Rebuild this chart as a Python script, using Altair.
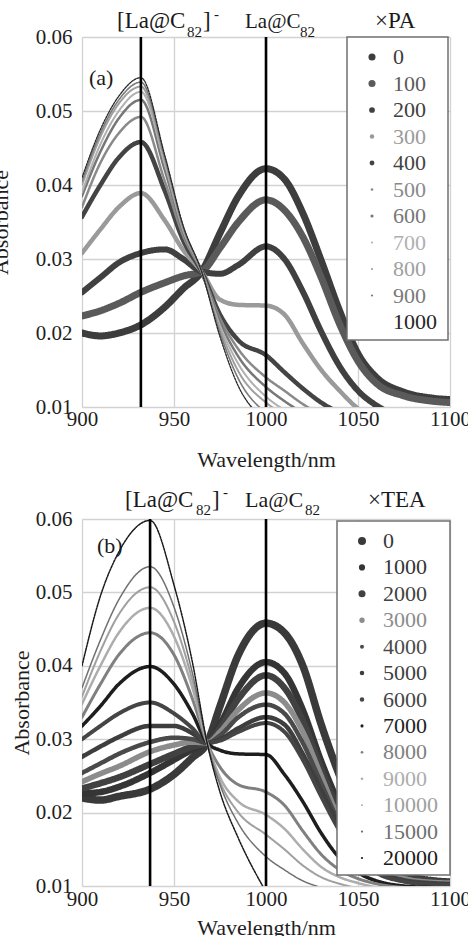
import altair as alt
import pandas as pd

FONT = "Liberation Serif"

X_TICKS = [900, 950, 1000, 1050, 1100]
Y_TICKS = [0.01, 0.02, 0.03, 0.04, 0.05, 0.06]

# ---------------- (a) La@C82 + PA ----------------
WL_A = [900, 910, 920, 932, 945, 955, 965, 975, 985, 1000,
        1010, 1020, 1030, 1040, 1050, 1060, 1075, 1090, 1100]
PA_KEYS = ["0", "100", "200", "300", "400", "500", "600", "700", "800", "900", "1000"]
PA_0 = [0.0200, 0.0196, 0.0200, 0.0211, 0.0235, 0.0260, 0.0283, 0.0335, 0.0385, 0.0422,
        0.0408, 0.0362, 0.0298, 0.0230, 0.0172, 0.0140, 0.0120, 0.0112, 0.0110]
PA_100 = [0.0223, 0.0230, 0.0240, 0.0255, 0.0268, 0.0277, 0.0283, 0.0315, 0.0350, 0.0380,
          0.0366, 0.0330, 0.0275, 0.0212, 0.0162, 0.0132, 0.0115, 0.0108, 0.0106]
PA_200 = [0.0255, 0.0275, 0.0295, 0.0308, 0.0313, 0.0300, 0.0283, 0.0280, 0.0292, 0.0317,
          0.0300, 0.0256, 0.0202, 0.0155, 0.0122, 0.0102, 0.0085]
PA_300 = [0.0308, 0.0340, 0.0370, 0.0389, 0.0352, 0.0312, 0.0283, 0.0245, 0.0238, 0.0237,
          0.0225, 0.0186, 0.0150, 0.0122, 0.0098, 0.0085]
PA_400 = [0.0357, 0.0400, 0.0437, 0.0458, 0.0392, 0.0325, 0.0283, 0.0225, 0.0190, 0.0170,
          0.0147, 0.0125, 0.0106, 0.0092]
PA_500 = [0.0370, 0.0430, 0.0470, 0.0492, 0.0405, 0.0331, 0.0283, 0.0220, 0.0178, 0.0140,
          0.0122, 0.0104, 0.0090]
PA_600 = [0.0385, 0.0445, 0.0490, 0.0515, 0.0420, 0.0336, 0.0283, 0.0215, 0.0168, 0.0127,
          0.0108, 0.0092]
PA_700 = [0.0390, 0.0455, 0.0500, 0.0526, 0.0428, 0.0339, 0.0283, 0.0210, 0.0158, 0.0114,
          0.0096]
PA_800 = [0.0400, 0.0465, 0.0510, 0.0533, 0.0433, 0.0341, 0.0283, 0.0205, 0.0148, 0.0106,
          0.0090]
PA_900 = [0.0405, 0.0470, 0.0515, 0.0539, 0.0437, 0.0343, 0.0283, 0.0200, 0.0138, 0.0092]
PA_1000 = [0.0410, 0.0475, 0.0520, 0.0545, 0.0440, 0.0345, 0.0283, 0.0195, 0.0128, 0.0082]
PA_SERIES = [PA_0, PA_100, PA_200, PA_300, PA_400, PA_500, PA_600, PA_700, PA_800, PA_900, PA_1000]
PA_PEAKS = [932, 1000]

PA_COLORS = ["#3d3d3d", "#5a5a5a", "#404040", "#9a9a9a", "#444444", "#8a8a8a",
             "#777777", "#b0b0b0", "#a0a0a0", "#7a7a7a", "#262626"]
PA_WIDTHS = [7, 7, 6, 4.5, 4.5, 2.5, 2.5, 2, 2, 1.6, 1.3]
PA_DASHES = [[1, 0]] * 10 + [[2, 1.2]]
PA_DOTS = [50, 50, 33, 20, 24, 7, 10, 5, 5, 5, 0]

# ---------------- (b) La@C82 + TEA ----------------
WL_B = [900, 910, 920, 937, 950, 960, 968, 975, 985, 1000,
        1010, 1020, 1030, 1040, 1050, 1060, 1075, 1090, 1100]
TEA_KEYS = ["0", "1000", "2000", "3000", "4000", "5000", "6000", "7000",
            "8000", "9000", "10000", "15000", "20000"]
TEA_0 = [0.0220, 0.0217, 0.0222, 0.0232, 0.0252, 0.0275, 0.0295, 0.0345, 0.0415, 0.0458,
         0.0445, 0.0400, 0.0320, 0.0250, 0.0190, 0.0155, 0.0132, 0.0125, 0.0125]
TEA_1000 = [0.0226, 0.0228, 0.0235, 0.0254, 0.0272, 0.0286, 0.0295, 0.0320, 0.0370, 0.0405,
            0.0390, 0.0340, 0.0270, 0.0210, 0.0160, 0.0132, 0.0115, 0.0108, 0.0106]
TEA_2000 = [0.0233, 0.0240, 0.0248, 0.0266, 0.0280, 0.0290, 0.0295, 0.0315, 0.0355, 0.0387,
            0.0370, 0.0325, 0.0260, 0.0200, 0.0155, 0.0130, 0.0113, 0.0107, 0.0105]
TEA_3000 = [0.0242, 0.0253, 0.0263, 0.0283, 0.0292, 0.0296, 0.0295, 0.0310, 0.0340, 0.0363,
            0.0350, 0.0310, 0.0250, 0.0190, 0.0150, 0.0125, 0.0110, 0.0105, 0.0104]
TEA_4000 = [0.0254, 0.0267, 0.0280, 0.0296, 0.0302, 0.0300, 0.0295, 0.0305, 0.0330, 0.0347,
            0.0335, 0.0295, 0.0240, 0.0185, 0.0145, 0.0122, 0.0108, 0.0104, 0.0103]
TEA_5000 = [0.0276, 0.0290, 0.0303, 0.0318, 0.0318, 0.0308, 0.0295, 0.0300, 0.0315, 0.0330,
            0.0320, 0.0280, 0.0230, 0.0180, 0.0140, 0.0120, 0.0107, 0.0103, 0.0102]
TEA_6000 = [0.0300, 0.0318, 0.0335, 0.0350, 0.0335, 0.0315, 0.0295, 0.0298, 0.0310, 0.0322,
            0.0310, 0.0272, 0.0222, 0.0175, 0.0138, 0.0118, 0.0106, 0.0102, 0.0101]
TEA_7000 = [0.0318, 0.0345, 0.0375, 0.0399, 0.0375, 0.0335, 0.0295, 0.0285, 0.0280, 0.0279,
            0.0252, 0.0215, 0.0172, 0.0138, 0.0118, 0.0107, 0.0100, 0.0098]
TEA_8000 = [0.0330, 0.0375, 0.0415, 0.0445, 0.0415, 0.0355, 0.0295, 0.0262, 0.0238, 0.0228,
            0.0210, 0.0175, 0.0143, 0.0122, 0.0110, 0.0103, 0.0098]
TEA_9000 = [0.0348, 0.0400, 0.0445, 0.0479, 0.0440, 0.0370, 0.0295, 0.0248, 0.0215, 0.0197,
            0.0178, 0.0150, 0.0126, 0.0112, 0.0104, 0.0098]
TEA_10000 = [0.0358, 0.0420, 0.0470, 0.0507, 0.0460, 0.0380, 0.0295, 0.0242, 0.0200, 0.0170,
             0.0150, 0.0128, 0.0112, 0.0103, 0.0097]
TEA_15000 = [0.0370, 0.0435, 0.0490, 0.0535, 0.0480, 0.0390, 0.0295, 0.0238, 0.0185, 0.0140,
             0.0122, 0.0107, 0.0098]
TEA_20000 = [0.0400, 0.0495, 0.0555, 0.0598, 0.0510, 0.0405, 0.0295, 0.0228, 0.0165, 0.0092]
TEA_SERIES = [TEA_0, TEA_1000, TEA_2000, TEA_3000, TEA_4000, TEA_5000, TEA_6000,
              TEA_7000, TEA_8000, TEA_9000, TEA_10000, TEA_15000, TEA_20000]
TEA_PEAKS = [937, 1000]

TEA_COLORS = ["#3a3a3a", "#353535", "#414141", "#8c8c8c", "#4a4a4a", "#3e3e3e", "#454545",
              "#1e1e1e", "#808080", "#adadad", "#a0a0a0", "#707070", "#1a1a1a"]
TEA_WIDTHS = [7.5, 6.5, 6.5, 5.5, 4.5, 4.5, 4, 3.5, 3, 2.5, 2, 1.5, 1.5]
TEA_DASHES = [[1, 0]] * 12 + [[2, 1.2]]
TEA_DOTS = [64, 38, 50, 28, 16, 20, 20, 10, 7, 7, 3, 5, 5]

PLOT_W = 368
H_A, H_B, GAP = 370, 367, 112


def text_layer(txt, x, y, size):
    return alt.Chart(alt.Data(values=[{}])).mark_text(
        text=txt, font=FONT, fontSize=size, color="#1a1a1a",
        align="left", baseline="alphabetic",
    ).encode(x=alt.value(x), y=alt.value(y))


def panel(wl, keys, series, colors, widths, dashes, dots, peaks, height,
          frame, dot_x, label_x, rows, x_lab_pad, x_title_y, y_title_x, notes):
    recs = []
    for k, vals, c, w in zip(keys, series, colors, widths):
        for x, v in zip(wl, vals):
            recs.append({"wl": x, "absorb": v, "key": k, "col": c, "sw": w})
    lines_df = pd.DataFrame(recs)
    legend_df = pd.DataFrame({"key": keys, "col": colors, "dot": dots})

    x_scale = alt.Scale(domain=[900, 1100], nice=False, zero=False)
    y_scale = alt.Scale(domain=[0.01, 0.06], nice=False, zero=False)

    x_axis = alt.Axis(values=X_TICKS, format="d", title="Wavelength/nm",
                      labelFlush=False, labelOverlap=False, labelPadding=x_lab_pad,
                      labelBaseline="alphabetic", titleY=x_title_y,
                      titleBaseline="alphabetic", titleAlign="center", titleX=PLOT_W / 2,
                      grid=True, domain=False, ticks=False, tickSize=0)
    y_axis = alt.Axis(values=Y_TICKS, format=".2f", title="Absorbance",
                      labelFlush=False, labelOverlap=False, labelPadding=10,
                      labelAlign="right", labelBaseline="middle",
                      titleX=y_title_x, titleY=height / 2, titleAngle=270,
                      titleBaseline="alphabetic", titleAlign="center",
                      grid=True, domain=False, ticks=False, tickSize=0)

    lines = alt.Chart(lines_df).mark_line(
        clip=True, interpolate="monotone", strokeCap="round", strokeJoin="round"
    ).encode(
        x=alt.X("wl:Q", scale=x_scale, axis=x_axis),
        y=alt.Y("absorb:Q", scale=y_scale, axis=y_axis),
        color=alt.Color("col:N", scale=None),
        strokeWidth=alt.StrokeWidth("sw:Q", scale=None),
        strokeDash=alt.StrokeDash("key:N", scale=alt.Scale(domain=keys, range=dashes),
                                  legend=None),
        detail="key:N",
    )

    # marker lines at the two band positions share the wavelength axis
    rules = alt.Chart(pd.DataFrame({"peak": peaks})).mark_rule(
        color="#000000", strokeWidth=2.6
    ).encode(x=alt.X("peak:Q", scale=x_scale, axis=x_axis))

    fx0, fx1, fy0, fy1 = frame
    box = alt.Chart(alt.Data(values=[{}])).mark_rect(
        fill="white", stroke="#707070", strokeWidth=1.5
    ).encode(x=alt.value(fx0), x2=alt.value(fx1), y=alt.value(fy0), y2=alt.value(fy1))

    row_y = alt.Y("key:N", sort=keys, axis=None,
                  scale=alt.Scale(domain=keys, range=list(rows), padding=0))
    legend_dots = alt.Chart(legend_df).mark_circle(opacity=1).encode(
        x=alt.value(dot_x), y=row_y,
        color=alt.Color("col:N", scale=None),
        size=alt.Size("dot:Q", scale=None),
    )
    legend_text = alt.Chart(legend_df).mark_text(
        align="left", baseline="middle", font=FONT, fontSize=22
    ).encode(
        x=alt.value(label_x), y=row_y, text="key:N",
        color=alt.Color("col:N", scale=None),
    )

    layers = [lines, rules, box, legend_dots, legend_text]
    layers += [text_layer(*n) for n in notes]
    return alt.layer(*layers).resolve_scale(y="independent").properties(
        width=PLOT_W, height=height
    )


NOTES_A = [("[La@C", 35, -9, 23), ("82", 105, 0, 15), ("]", 121, -9, 23),
           ("-", 132, -18, 15), ("La@C", 163, -9, 21), ("82", 218, 0, 15),
           ("\u00d7PA", 293, -9, 23), ("(a)", 7, 48, 22)]
NOTES_B = [("[La@C", 43, -12, 23), ("82", 114, -4, 15), ("]", 130, -12, 23),
           ("-", 141, -22, 15), ("La@C", 163, -12, 22), ("82", 223, -4, 15),
           ("\u00d7TEA", 286, -12, 23), ("(b)", 15, 34, 22)]

chart_a = panel(WL_A, PA_KEYS, PA_SERIES, PA_COLORS, PA_WIDTHS, PA_DASHES, PA_DOTS,
                PA_PEAKS, H_A,
                frame=(265, 366, 0, 303), dot_x=290, label_x=311, rows=(20, 285),
                x_lab_pad=18, x_title_y=59, y_title_x=-75, notes=NOTES_A)
chart_b = panel(WL_B, TEA_KEYS, TEA_SERIES, TEA_COLORS, TEA_WIDTHS, TEA_DASHES, TEA_DOTS,
                TEA_PEAKS, H_B,
                frame=(255, 368, 2, 356), dot_x=280, label_x=301, rows=(22, 339),
                x_lab_pad=19, x_title_y=48, y_title_x=-54, notes=NOTES_B)

# The concatenated view reports its width as the panel width and its height as 0,
# so the padding alone has to fill out the 468 x 936 canvas.
PAD_LEFT, PAD_TOP = 82, 37
chart = alt.vconcat(chart_a, chart_b, spacing=GAP, bounds="flush").properties(
    autosize=alt.AutoSizeParams(type="none"),
    padding={"left": PAD_LEFT, "top": PAD_TOP,
             "right": 468 - PAD_LEFT - PLOT_W,
             "bottom": 936 - PAD_TOP},
    background="white",
).configure_axis(
    labelFont=FONT, labelFontSize=21, labelColor="#1e1e1e",
    titleFont=FONT, titleFontSize=22, titleFontWeight="normal", titleColor="#1e1e1e",
    gridColor="#d2d2d2", gridWidth=1.3,
).configure_view(stroke=None)

chart.save("out.html", embed_options={"renderer": "svg", "actions": False})
